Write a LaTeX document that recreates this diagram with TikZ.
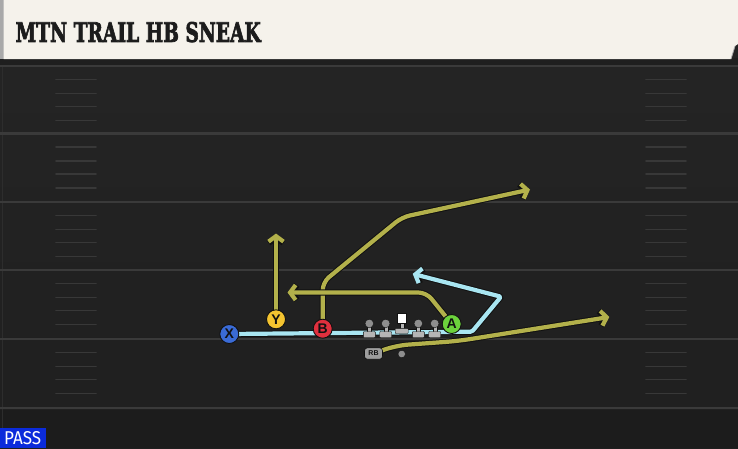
\documentclass[tikz,border=0pt]{standalone}
\usepackage{graphicx}
\usepackage{fontspec}
\setmainfont{Liberation Sans}
\newfontfamily\titlefont{DejaVu Serif}[FakeBold=3, BoldFeatures={FakeBold=3}]
\newfontfamily\passfont{Fira Sans}
\usetikzlibrary{arrows.meta}
\definecolor{fieldtop}{HTML}{252525}
\definecolor{fieldbot}{HTML}{1F1F1F}
\definecolor{yardline}{HTML}{3A3A3A}
\definecolor{hashc}{HTML}{383838}
\definecolor{cream}{HTML}{F5F2EB}
\definecolor{edgegray}{HTML}{A9A9A9}
\definecolor{titleink}{HTML}{1C1C1C}
\definecolor{passblue}{HTML}{0B2BDB}
\definecolor{olive}{HTML}{B3B14B}
\definecolor{skyroute}{HTML}{A9E6F2}
\definecolor{outl}{HTML}{111111}
\definecolor{xblue}{HTML}{3A6BD6}
\definecolor{yyellow}{HTML}{F4C430}
\definecolor{bred}{HTML}{E0303E}
\definecolor{agreen}{HTML}{6CD23C}
\definecolor{olhead}{HTML}{8E8E8E}
\definecolor{olbody}{HTML}{B5B5B5}
\definecolor{rbgray}{HTML}{9E9E9E}
\tikzset{
  route/.style={line width=4.2pt, line join=round, line cap=round,
    preaction={draw=outl, line width=6.2pt}},
  tipb/.style={-{Straight Barb[length=5.5pt,width=15pt]}},
  player/.style={circle, draw=outl, line width=0.9pt, minimum size=19pt,
    inner sep=0pt, font=\fontsize{14}{14}\selectfont\bfseries, text=outl},
  olman/.pic={
    \fill[olbody, draw=outl, line width=0.4pt] (-2,0) rectangle (2,8.5);
    \fill[olbody, draw=outl, line width=0.4pt, rounded corners=0.8pt] (-6,8) rectangle (6,14.2);
    \fill[olhead, draw=outl, line width=0.4pt] (0,0) circle (4.3);
  },
}
\begin{document}
\begin{tikzpicture}[x=1pt,y=-1pt]
\useasboundingbox (0,0) rectangle (738,448);
% field
\shade[top color=fieldtop, bottom color=fieldbot] (0,0) rectangle (738,448);
\fill[fieldbot!90!black] (0,410) rectangle (738,448);
\draw[line width=1pt, color=hashc!80!black] (2,60) -- (2,448);
% yard lines
\foreach \L in {66,133.5,202,270,339,408}{
  \draw[yardline, line width=2.2pt] (0,\L) -- (738,\L);
}
\foreach \L in {66,133.5,202,270,339}{
  \foreach \o in {13.5,27.5,40.5,54.5}{
    \draw[hashc, line width=1.6pt, line cap=round] (56,\L+\o) -- (96,\L+\o);
    \draw[hashc, line width=1.6pt, line cap=round] (646,\L+\o) -- (686,\L+\o);
  }
}
% header
\fill[black!88] (0,58) rectangle (738,64.5);
\fill[edgegray] (0,0) rectangle (4,58.5);
\fill[cream] (3.5,0) -- (738,0) -- (738,44) -- (735,46) -- (731,59) -- (3.5,59) -- cycle;
\draw[edgegray, line width=0.8pt] (735,46) -- (731,59);
\node[anchor=south west, inner sep=0pt, text=titleink] (title) at (15.5,42.5)
  {\resizebox{245pt}{20pt}{\titlefont\bfseries MTN TRAIL HB SNEAK}};
% PASS tag
\fill[passblue] (0,427.5) rectangle (46,448);
\node[anchor=south west, inner sep=0pt, text=white] (pass) at (4,445)
  {\resizebox{37pt}{13pt}{\passfont PASS}};
% player positions
\coordinate (pX) at (229.3,334);
\coordinate (pY) at (276,319.3);
\coordinate (pB) at (322.7,328.7);
\coordinate (pA) at (451.7,324);
\coordinate (pRB) at (373.5,353.5);
% route end points
\coordinate (eX) at (412.7,273.8);
\coordinate (eY) at (276,233.5);
\coordinate (eB) at (530,189.5);
\coordinate (eA) at (287.5,292.5);
\coordinate (eRB) at (609.3,317);
% routes
\draw[route, color=skyroute, tipb, rounded corners=1.5pt] (pX) -- (472,331.7) -- (501,296.7) -- (eX);
\draw[route, color=olive, tipb] (pY) -- (eY);
\draw[route, color=olive, tipb, rounded corners=8pt] (pB) -- (322.7,282.3) -- (402,217.2) -- (eB);
\draw[route, color=olive, tipb, rounded corners=8pt] (pA) -- (426.4,292.5) -- (eA);
\draw[route, color=olive, tipb, rounded corners=12pt] (pRB) -- (396,345.5) -- (458,341) -- (eRB);
% offensive line
\pic (LT) at (369.3,323.5) {olman};
\pic (LG) at (385.7,323.5) {olman};
\pic (RG) at (418.3,323.5) {olman};
\pic (RT) at (434.7,323.5) {olman};
\fill[olbody, draw=outl, line width=0.4pt] (399.7,322) rectangle (403.7,329.5);
\fill[olbody, draw=outl, line width=0.4pt, rounded corners=0.8pt] (395.2,328.3) rectangle (408.2,333.5);
\node[draw=outl, fill=white, line width=0.4pt, minimum width=9pt, minimum height=9.5pt, inner sep=0pt] (C) at (401.7,318.3) {};
% backfield
\node[fill=olhead, draw=outl, line width=0.4pt, circle, minimum size=7.5pt, inner sep=0pt] (QB) at (401.7,354) {};
\node[fill=rbgray, draw=outl, line width=0.6pt, rounded corners=3pt, minimum width=18pt, minimum height=11.5pt, inner sep=0pt, font=\fontsize{7}{7}\selectfont\bfseries, text=outl] (RB) at (pRB) {RB};
% skill players
\node[player, fill=xblue] (X) at (pX) {X};
\node[player, fill=yyellow] (Y) at (pY) {Y};
\node[player, fill=bred] (B) at (pB) {B};
\node[player, fill=agreen] (A) at (pA) {A};
\end{tikzpicture}
\end{document}
